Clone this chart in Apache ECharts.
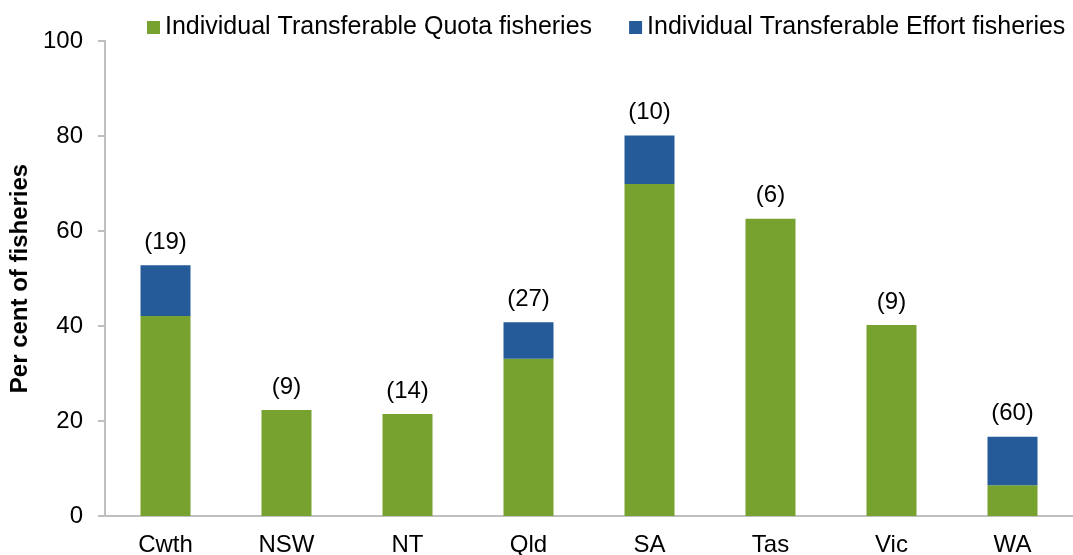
<!DOCTYPE html>
<html>
<head>
<meta charset="utf-8">
<script src="https://cdn.jsdelivr.net/npm/echarts@6/dist/echarts.min.js"></script>
<style>
  html, body { margin: 0; padding: 0; background: #fff; }
  #main { width: 1073px; height: 555px; }
</style>
</head>
<body>
<div id="main"></div>
<script>
// jurisdictions and number of fisheries shown above each bar
const states = ['Cwth', 'NSW', 'NT', 'Qld', 'SA', 'Tas', 'Vic', 'WA'];
const fisheryCounts = [19, 9, 14, 27, 10, 6, 9, 60];
// per cent of fisheries
const quotaShare = [42.1, 22.3, 21.5, 33.1, 69.9, 62.6, 40.2, 6.5];
const effortShare = [10.7, 0, 0, 7.7, 10.2, 0, 0, 10.2];

const font = 'Liberation Sans, Arial, sans-serif';

let myChart = echarts.init(document.getElementById('main'));
let option = {
  animation: false,
  textStyle: { fontFamily: font },
  legend: {
    left: 147,
    top: 15,
    padding: 0,
    icon: 'rect',
    itemWidth: 13,
    itemHeight: 13,
    itemGap: 37,
    textStyle: { fontSize: 25, color: '#000', fontFamily: font },
    data: ['Individual Transferable Quota fisheries', 'Individual Transferable Effort fisheries']
  },
  grid: {
    left: 105,
    right: 0,
    top: 41,
    bottom: 39,
    outerBoundsMode: 'none'
  },
  xAxis: {
    type: 'category',
    data: states,
    axisLine: { lineStyle: { color: '#bfbfbf', width: 2 } },
    axisTick: { show: false },
    axisLabel: { fontSize: 24, color: '#000', margin: 17, fontFamily: font }
  },
  yAxis: {
    type: 'value',
    min: 0,
    max: 100,
    interval: 20,
    name: 'Per cent of fisheries',
    nameLocation: 'middle',
    nameGap: 71,
    nameTextStyle: { fontSize: 24, fontWeight: 'bold', color: '#000', fontFamily: font },
    axisLine: { show: true, lineStyle: { color: '#bfbfbf', width: 2 } },
    axisTick: { show: true, length: 7, lineStyle: { color: '#bfbfbf', width: 2 } },
    splitLine: { show: false },
    axisLabel: { fontSize: 24, color: '#000', margin: 22, fontFamily: font }
  },
  series: [
    {
      name: 'Individual Transferable Quota fisheries',
      type: 'bar',
      stack: 'total',
      barWidth: 50,
      itemStyle: { color: '#78a22f' },
      data: quotaShare
    },
    {
      name: 'Individual Transferable Effort fisheries',
      type: 'bar',
      stack: 'total',
      barWidth: 50,
      itemStyle: { color: '#265b9a' },
      label: {
        show: true,
        position: 'top',
        distance: 11,
        fontSize: 24,
        color: '#000',
        fontFamily: font,
        formatter: (p) => '(' + fisheryCounts[p.dataIndex] + ')'
      },
      data: effortShare
    }
  ]
};
myChart.setOption(option);
</script>
</body>
</html>
